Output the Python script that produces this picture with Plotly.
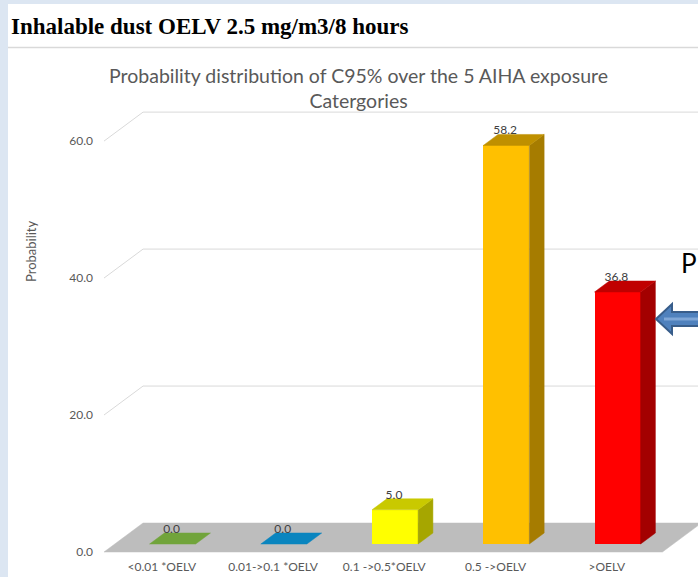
import plotly.graph_objects as go

# ---------------- data ----------------
categories = ["<0.01 *OELV", "0.01->0.1 *OELV", "0.1 ->0.5*OELV", "0.5 ->OELV", ">OELV"]
values = [0.0, 0.0, 5.0, 58.2, 36.8]
value_labels = ["0.0", "0.0", "5.0", "58.2", "36.8"]
y_ticks = [0, 20, 40, 60]
y_tick_text = ["0.0", "20.0", "40.0", "60.0"]

front_colors = ["#70ad47", "#0086c1", "#ffff00", "#ffc000", "#ff0000"]
top_colors = ["#71a43b", "#0a85bf", "#c9c900", "#bf9000", "#c00000"]
side_colors = ["#5a8a30", "#06699a", "#a6a600", "#a67c00", "#a30000"]

# ---------------- geometry (styles) ----------------
W, H = 698, 577
L_PX, R_PX, T_PX, B_PX = 104, 698, 100, 557
X_RANGE = [-0.52, 4.82]
Y_RANGE = [-0.73, 66.0]
DEPTH_X = 0.351      # full floor depth, in category units
DEPTH_Y = 4.23       # full floor depth, in value units
D0, D1 = 0.276, 0.655  # bar depth span (fraction of floor depth)
HALF_W = 0.207
FLOOR_X0, FLOOR_X1 = -0.52, 4.50

def px(x):
    return (x - L_PX) / (R_PX - L_PX)

def py(y):
    return (B_PX - y) / (B_PX - T_PX)

fig = go.Figure()
shapes = []

# floor (below all traces)
shapes.append(dict(
    type="path", xref="x", yref="y", layer="below",
    path="M {},{} L {},{} L {},{} L {},{} Z".format(
        FLOOR_X0, 0, FLOOR_X1, 0, FLOOR_X1 + DEPTH_X, DEPTH_Y, FLOOR_X0 + DEPTH_X, DEPTH_Y),
    fillcolor="#bdbdbd", line=dict(color="#bdbdbd", width=0.5)))

# gridlines on walls (side wall diagonal + back wall horizontal)
for v in y_ticks[1:]:
    shapes.append(dict(
        type="path", xref="x", yref="y", layer="below",
        path="M {},{} L {},{} L {},{}".format(
            X_RANGE[0], v, X_RANGE[0] + DEPTH_X, v + DEPTH_Y, X_RANGE[1] + 0.1, v + DEPTH_Y),
        line=dict(color="#d9d9d9", width=1)))

dx0, dy0 = D0 * DEPTH_X, D0 * DEPTH_Y
dx1, dy1 = D1 * DEPTH_X, D1 * DEPTH_Y
centers = [i + dx0 for i in range(len(categories))]

# front faces
fig.add_trace(go.Bar(
    x=centers, y=values, base=[dy0] * len(values), width=2 * HALF_W,
    marker=dict(color=front_colors, line=dict(width=0)),
    hoverinfo="skip", showlegend=False))

# side and top faces
for i, v in enumerate(values):
    c = centers[i]
    xl, xr = c - HALF_W, c + HALF_W
    ddx, ddy = dx1 - dx0, dy1 - dy0
    if v > 0:
        fig.add_trace(go.Scatter(
            x=[xr, xr + ddx, xr + ddx, xr, xr],
            y=[dy0, dy0 + ddy, dy0 + v + ddy, dy0 + v, dy0],
            mode="lines", fill="toself", fillcolor=side_colors[i],
            line=dict(color=side_colors[i], width=0.5),
            hoverinfo="skip", showlegend=False))
    fig.add_trace(go.Scatter(
        x=[xl, xr, xr + ddx, xl + ddx, xl],
        y=[dy0 + v, dy0 + v, dy0 + v + ddy, dy0 + v + ddy, dy0 + v],
        mode="lines", fill="toself", fillcolor=top_colors[i],
        line=dict(color=top_colors[i], width=0.5),
        hoverinfo="skip", showlegend=False))

# value labels
fig.add_trace(go.Scatter(
    x=[c - 0.01 for c in centers], y=[v + dy1 + 0.45 for v in values],
    mode="text", text=value_labels, textposition="middle center",
    textfont=dict(family="Lato", size=12, color="#404040"),
    hoverinfo="skip", showlegend=False, cliponaxis=False))

shapes += [
    # left and top light-blue strips
    dict(type="rect", xref="paper", yref="paper", x0=px(0), x1=px(8), y0=py(577), y1=py(0),
         fillcolor="#dce6f2", line=dict(width=0), layer="below"),
    dict(type="rect", xref="paper", yref="paper", x0=px(0), x1=px(698), y0=py(4), y1=py(0),
         fillcolor="#dce6f2", line=dict(width=0), layer="below"),
    # chart box top border
    dict(type="line", xref="paper", yref="paper", x0=px(8), x1=px(698), y0=py(47.5), y1=py(47.5),
         line=dict(color="#d9d9d9", width=1.5)),
    # arrow
    dict(type="path", xref="paper", yref="paper",
         path="M {},{} L {},{} L {},{} L {},{} L {},{} L {},{} L {},{} Z".format(
             px(656), py(319), px(672), py(304), px(672), py(312), px(702), py(312),
             px(702), py(326), px(672), py(326), px(672), py(334)),
         fillcolor="#4f81bd", line=dict(color="#385d8a", width=2)),
    dict(type="line", xref="paper", yref="paper", x0=px(664), x1=px(702), y0=py(319), y1=py(319),
         line=dict(color="#7fa6d6", width=3)),
]

annotations = [
    dict(text="<b>Inhalable dust OELV 2.5 mg/m3/8 hours</b>", xref="paper", yref="paper",
         x=px(9), y=py(26), xanchor="left", yanchor="middle", showarrow=False,
         font=dict(family="Liberation Serif", size=23, color="#000000")),
    dict(text="Probability distribution of C95% over the 5 AIHA exposure<br>Catergories",
         xref="paper", yref="paper", x=px(358), y=py(88), xanchor="center", yanchor="middle",
         showarrow=False, align="center",
         font=dict(family="Lato", size=19.5, color="#595959")),
    dict(text="Probability", xref="paper", yref="paper", x=px(31), y=py(251),
         xanchor="center", yanchor="middle", textangle=-90, showarrow=False,
         font=dict(family="Lato", size=13, color="#595959")),
    dict(text="P", xref="paper", yref="paper", x=px(698), y=py(263),
         xanchor="right", yanchor="middle", showarrow=False, borderpad=0,
         font=dict(family="Lato", size=26, color="#000000")),
]

fig.update_layout(
    width=W, height=H,
    margin=dict(l=L_PX, r=W - R_PX, t=T_PX, b=H - B_PX, pad=0),
    paper_bgcolor="#ffffff", plot_bgcolor="rgba(0,0,0,0)",
    shapes=shapes, annotations=annotations,
    bargap=0,
    xaxis=dict(range=X_RANGE, tickvals=list(range(len(categories))), ticktext=categories,
               showgrid=False, zeroline=False, showline=False, ticks="",
               tickfont=dict(family="Lato", size=12, color="#595959"),
               fixedrange=True, ticklabelstandoff=1),
    yaxis=dict(range=Y_RANGE, tickvals=y_ticks, ticktext=y_tick_text,
               showgrid=False, zeroline=False, showline=False, ticks="",
               tickfont=dict(family="Lato", size=12, color="#595959"),
               fixedrange=True, ticklabelstandoff=10),
)

fig.write_html("out.html")
